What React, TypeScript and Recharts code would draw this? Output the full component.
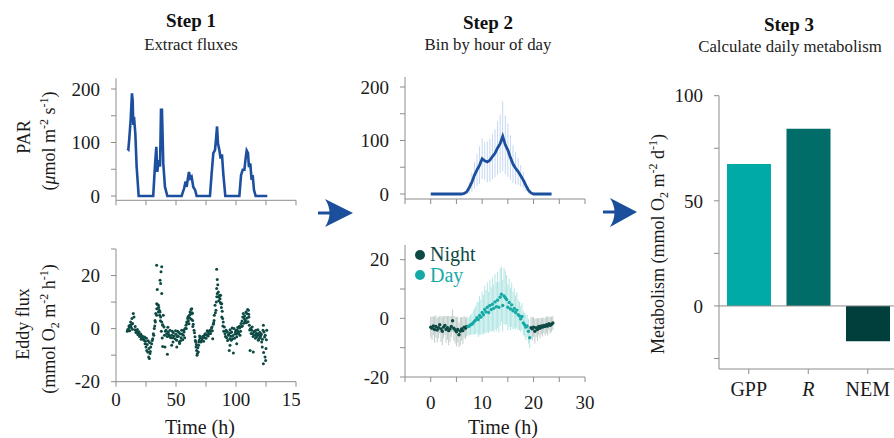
import React from "react";
import {
  Bar,
  BarChart,
  Cell,
  ComposedChart,
  ErrorBar,
  Line,
  ReferenceLine,
  Scatter,
  XAxis,
  YAxis,
} from "recharts";

// Step 1 (top): PAR time series
const parTime = [9.4, 10.3, 11.1, 12.2, 13.3, 13.9, 14.4, 15.0, 16.1, 17.2, 18.9, 31.0, 32.5, 33.6, 34.4, 35.6, 36.7, 37.5, 38.3, 39.4, 40.8, 42.8, 54.7, 56.7, 58.0, 58.9, 59.7, 60.8, 61.9, 63.0, 64.4, 66.0, 67.2, 78.3, 79.7, 81.1, 82.5, 83.3, 84.2, 85.0, 86.1, 87.2, 88.3, 89.4, 91.1, 102.8, 104.2, 105.6, 107.0, 108.0, 108.9, 110.0, 110.8, 111.9, 113.0, 113.9, 115.0, 116.4, 126.1];
const parValue = [89, 87, 108, 142, 192, 179, 133, 148, 117, 55, 0, 0, 58, 92, 45, 67, 55, 161, 161, 61, 17, 0, 0, 14, 27, 17, 30, 45, 33, 36, 17, 11, 0, 0, 42, 80, 86, 105, 130, 98, 86, 70, 78, 42, 0, 0, 39, 49, 49, 70, 85, 80, 54, 61, 30, 39, 11, 0, 0];

// Step 1 (bottom): eddy flux points [time h, flux]
const eddyFlux: [number, number][] = [
  [9.4, -1.0], [9.8, -0.3], [10.3, -0.6], [10.8, 1.0], [11.1, 0.4], [11.4, -0.8], [11.7, 1.3], [12.2, 2.5], [12.6, 0.5], [13.0, 1.6], [13.3, 3.8], [13.6, -0.2], [13.9, 1.9], [14.4, 5.7], [15.0, 4.4],
  [15.8, -0.4], [16.0, 0.8], [16.6, -1.5], [17.2, -1.0], [17.8, -0.3], [18.2, -2.2], [18.6, -1.6], [19.2, -1.2], [19.6, -3.0], [20.0, -2.5], [20.6, -2.0], [21.0, -4.0], [21.4, -3.4], [22.0, -2.8], [22.8, -3.8],
  [23.3, -4.4], [23.8, -3.2], [24.2, -5.7], [24.6, -4.8], [25.0, -6.9], [25.3, -3.6], [25.6, -8.2], [26.0, -6.0], [26.4, -8.8], [26.8, -4.6], [27.2, -10.7], [27.5, -7.5], [27.8, -11.3], [28.0, -5.2], [28.3, -9.4], [28.6, -8.6], [28.9, -6.9],
  [29.7, -5.7], [30.2, -4.5], [30.6, -3.8], [31.1, -1.9], [31.5, -2.5], [31.9, 0], [32.3, 1.0], [32.5, 3.1], [32.8, 2.5], [33.1, 5.7],
  [33.9, 23.9], [34.4, 14.7], [33.9, 9.4], [33.9, 5.0], [34.0, 7.5], [34.8, 9.0], [35.3, 8.8], [35.3, 6.3], [35.6, 8.0], [36.1, 6.9], [36.4, 5.0], [36.7, 18.2], [37.2, 17.0], [37.5, 21.4], [38.1, 23.3], [38.1, 13.2], [36.7, 6.3], [37.0, 3.0], [37.2, 4.4], [37.8, -1.0], [38.1, 2.5], [38.5, -3.5], [38.9, 1.3], [38.9, -6.7], [39.0, 1.5], [39.4, 5.0], [40.0, 0.6], [40.4, -2.5], [40.8, -6.9], [41.2, -1.0], [41.7, -0.6], [42.8, -9.7],
  [42.2, -1.9], [42.6, -3.0], [43.2, 0.5], [43.6, -1.3], [44.0, -2.2], [44.4, -2.9], [45.0, -0.6], [45.6, -3.4], [46.4, -2.5], [46.4, -6.3], [46.9, -1.0], [47.2, -3.4], [47.5, -5.0], [47.8, -1.6], [48.4, -2.8], [49.2, -3.8], [49.6, -0.8], [50.0, -2.1], [50.6, -4.4], [50.6, -6.9], [51.0, -3.0], [51.4, -1.0], [51.9, -2.9], [52.2, -1.4], [52.8, -5.0], [53.0, -5.6], [53.3, -1.9], [53.8, -4.6], [54.2, -3.4], [54.7, -0.6], [55.0, -2.0], [55.6, -4.2], [56.1, -2.5], [56.4, -0.6], [56.7, -1.3], [57.2, -3.4], [57.5, 0],
  [58.3, 1.3], [58.6, 0.0], [58.9, 2.5], [59.4, 2.0], [59.7, 3.8], [60.0, 4.5], [60.3, 2.9], [60.8, 1.8], [61.1, 5.0], [61.4, 4.0], [61.7, 6.3], [62.2, 5.5], [62.5, 7.2], [62.8, 3.5], [63.1, 7.5], [63.4, 6.0], [63.6, 5.7], [63.9, 3.1], [64.0, 0.8], [64.4, 1.6],
  [65.0, -0.6], [65.4, -1.6], [65.8, -3.1], [66.1, -4.5], [66.4, -5.0], [66.7, -6.9], [67.0, -6.0], [67.2, -8.2], [67.5, -10.0], [67.8, -9.4], [68.2, -7.2], [68.6, -8.8], [68.9, -6.3], [69.0, -5.0], [69.4, -4.4], [69.7, -2.8], [70.0, -3.4],
  [70.8, -5.0], [71.2, -4.6], [71.7, -3.8], [72.2, -3.0], [72.8, -2.9], [73.0, -4.8], [73.6, -3.4], [74.0, -2.2], [74.4, -1.9], [75.0, -3.6], [75.6, -2.5], [76.0, -0.8], [76.4, -1.3], [76.8, -2.8], [77.2, -1.9], [77.8, -1.0], [78.3, -0.6], [78.8, -1.8], [79.2, -0.9], [79.6, 0.2], [80.0, 0.6], [80.3, -0.8], [80.6, -3.8], [81.1, 1.6], [81.4, 2.2], [81.7, 3.1], [81.9, 5.0],
  [82.5, 8.8], [82.8, 6.0], [83.3, 6.9], [83.6, 10.0], [83.9, 22.4], [84.4, 18.5], [83.9, 15.1], [84.0, 12.0], [84.4, 13.2], [84.8, 16.5], [85.3, 13.8], [85.6, 10.5], [85.8, 11.9], [86.2, 12.5], [86.7, 11.3], [87.0, 9.8], [87.2, 12.6], [87.5, 9.4], [87.8, 8.0], [88.1, 9.4], [88.1, 4.4], [88.5, 6.5], [88.9, 3.8], [89.0, 1.0], [89.4, 2.5], [89.8, -1.0], [90.3, 0.6],
  [90.8, -1.9], [91.2, -3.0], [91.7, -0.6], [92.0, -1.0], [92.2, -3.4], [92.8, -1.3], [93.0, -4.5], [93.6, -2.5], [94.0, -2.0], [94.4, -8.2], [94.8, -3.8], [95.0, -0.4], [95.0, -6.3], [95.4, -1.6], [95.8, -2.9], [96.0, -4.4], [96.4, -1.3], [96.8, 0.2], [97.2, -3.8], [97.5, -2.6], [97.8, -9.2], [98.3, 0], [98.8, -3.6], [99.2, -1.9], [99.6, -1.2], [100.0, -0.6], [100.3, -2.0], [100.6, -3.1], [100.6, -5.7], [101.0, -0.6], [101.4, 0.4], [101.9, -1.3], [102.2, -1.8], [102.8, 0.9], [103.0, 0.2], [103.3, -2.5], [103.8, -1.0], [104.2, 1.9], [104.6, 0.8],
  [105.0, 2.9], [105.3, 1.0], [105.6, 4.4], [106.1, 5.7], [106.5, 2.0], [106.9, 3.8], [107.2, 4.8], [107.5, 2.5], [107.8, 3.2], [108.3, 6.3], [108.6, 2.2], [108.9, 5.7], [109.3, 4.0], [109.7, 7.2], [110.0, 2.6], [110.3, 6.9], [110.6, 5.4], [110.8, 4.4], [111.1, 1.3], [111.4, -0.5], [111.7, -8.2],
  [112.2, 0], [112.6, -1.8], [113.1, -0.6], [113.5, 0.6], [113.9, -1.9], [114.2, -3.0], [114.4, -8.8], [115.0, -1.3], [115.4, -1.0], [115.8, -2.5], [116.2, -3.6], [116.7, -0.6], [117.0, -1.8], [117.2, -3.1], [117.7, -2.6], [118.1, -1.9], [118.3, -0.4], [118.6, -4.4], [119.0, -3.8], [119.4, -2.5], [119.8, -1.4], [120.0, -3.4], [120.4, -3.0], [120.8, -1.9], [121.1, -2.2], [121.4, -5.0], [121.9, -6.9], [122.0, -4.0], [122.5, -0.6], [122.8, 1.3], [122.8, -13.2], [123.0, -9.0], [123.3, -1.3], [123.8, -3.2], [124.2, -10.7], [124.4, -2.5], [124.7, -12.0], [125.0, -7.5], [125.3, -4.2], [125.6, -0.6],
];

// Step 2 (top): PAR binned by hour of day
const binHours = [0, 0.5, 1, 1.5, 2, 2.5, 3, 3.5, 4, 4.5, 5, 5.5, 6, 6.5, 7, 7.5, 8, 8.5, 9, 9.5, 10, 10.5, 11, 11.5, 12, 12.5, 13, 13.5, 14, 14.5, 15, 15.5, 16, 16.5, 17, 17.5, 18, 18.5, 19, 19.5, 20, 20.5, 21, 21.5, 22, 22.5, 23, 23.5];
const parMean = [0, 0, 0, 0, 0, 0, 0, 0, 0, 0, 0, 0, 0, 1, 4, 12, 22, 35, 45, 54, 66, 62, 60, 63, 70, 76, 86, 94, 108, 92, 82, 68, 56, 48, 42, 34, 26, 16, 7, 2, 0, 0, 0, 0, 0, 0, 0, 0];
const parSd = [0, 0, 0, 0, 0, 0, 0, 0, 0, 0, 0, 0, 0, 1, 4, 10, 18, 25, 30, 35, 38, 35, 38, 40, 42, 45, 50, 55, 65, 55, 50, 42, 35, 30, 25, 20, 15, 10, 6, 2, 0, 0, 0, 0, 0, 0, 0, 0];

// Step 2 (bottom): eddy flux binned by hour, night and day
const nightHours = [0, 0.25, 0.5, 0.75, 1, 1.25, 1.5, 1.75, 2, 2.25, 2.5, 2.75, 3, 3.25, 3.5, 3.75, 4, 4.25, 4.5, 4.75, 5, 5.25, 5.5, 5.75, 6, 6.25, 6.5, 6.75, 7, 19.5, 19.75, 20, 20.25, 20.5, 20.75, 21, 21.25, 21.5, 21.75, 22, 22.25, 22.5, 22.75, 23, 23.25, 23.5, 23.75];
const nightMean = [-3.0, -3.4, -2.6, -3.8, -2.8, -4.0, -3.2, -2.2, -3.6, -4.4, -3.0, -2.4, -3.8, -3.2, -4.2, -3.6, -2.8, -0.8, -3.4, -4.0, -4.6, -3.8, -5.6, -4.4, -3.6, -4.2, -3.0, -3.4, -2.8, -3.2, -3.6, -3.0, -4.4, -3.2, -3.8, -2.8, -3.4, -2.6, -3.0, -2.4, -2.8, -2.2, -2.6, -1.8, -2.4, -2.0, -1.6];
const nightSd = [3.5, 4.0, 3.2, 4.5, 3.8, 4.2, 3.6, 3.0, 4.4, 4.8, 3.8, 3.2, 4.6, 4.0, 5.0, 4.4, 3.6, 3.8, 4.2, 4.6, 5.0, 4.4, 4.2, 4.8, 4.0, 4.6, 3.8, 3.6, 3.4, 3.6, 4.0, 3.4, 4.2, 3.2, 3.8, 3.0, 3.4, 2.8, 3.2, 2.6, 3.0, 2.8, 3.2, 2.4, 2.8, 2.6, 2.4];
const dayHours = [7.25, 7.5, 7.75, 8, 8.25, 8.5, 8.75, 9, 9.25, 9.5, 9.75, 10, 10.25, 10.5, 10.75, 11, 11.25, 11.5, 11.75, 12, 12.25, 12.5, 12.75, 13, 13.25, 13.5, 13.75, 14, 14.25, 14.5, 14.75, 15, 15.25, 15.5, 15.75, 16, 16.25, 16.5, 16.75, 17, 17.25, 17.5, 17.75, 18, 18.25, 18.5, 18.75, 19, 19.25];
const dayMean = [-2.8, -2.6, -2.2, -2.0, -1.6, -1.0, -0.6, 0.2, -0.4, 1.0, 0.4, 2.0, 1.2, 3.0, 2.2, 3.8, 2.0, 4.4, 3.0, 4.8, 3.4, 5.6, 4.0, 6.2, 3.8, 7.2, 8.2, 4.4, 7.6, 7.0, 6.4, 3.8, 5.4, 3.2, 4.6, 2.6, 3.4, 2.0, 2.8, 1.2, 0.8, -0.2, 0.6, -1.6, -2.2, -3.0, -2.6, -4.4, -6.6];
const daySd = [3.0, 3.2, 3.4, 3.6, 4.0, 4.4, 4.8, 5.4, 6.0, 6.6, 6.0, 7.2, 6.8, 8.0, 7.4, 8.4, 7.0, 8.8, 7.6, 9.0, 8.0, 9.4, 8.4, 9.6, 8.6, 9.8, 9.4, 8.8, 9.6, 9.2, 8.4, 7.8, 8.2, 7.2, 7.6, 6.4, 6.8, 5.8, 6.0, 5.2, 4.8, 4.4, 4.6, 4.2, 4.0, 4.4, 3.8, 4.2, 3.6];

// Step 3: daily metabolism
const metCategories = ["GPP", "R", "NEM"];
const metValues = [67.5, 84.3, -16.8];
const metColors = ["#00aaa7", "#006d69", "#003f3c"];

const SERIF = '"Liberation Serif", "Times New Roman", serif';
const AXIS = "#8c8c8c";
const TEXT = "#1a1a1a";
const BLUE = "#1d4f9f";
const DARK = "#0e4a44";
const TEAL = "#16aaa6";

const tickStyle = { fill: TEXT, fontSize: 19, fontFamily: SERIF };

const parSeries = parTime.map((t, i) => ({ t, v: parValue[i] }));
const fluxSeries = eddyFlux.map(([t, v]) => ({ t, v }));
const parBins = binHours.map((t, i) => ({ t, v: parMean[i], sd: parSd[i] }));
const nightSeries = nightHours.map((t, i) => ({ t, v: nightMean[i], sd: nightSd[i] }));
const daySeries = dayHours.map((t, i) => ({ t, v: dayMean[i], sd: daySd[i] }));
const metData = metCategories.map((name, i) => ({ name, value: metValues[i], color: metColors[i] }));

const box = (left: number, top: number, width: number, height: number): React.CSSProperties => ({
  position: "absolute",
  left,
  top,
  width,
  height,
});

const only = (keep: number[]) => (v: number) => (keep.includes(v) ? String(v) : "");

const dot = (r: number, fill: string) => (p: any) => <circle cx={p.cx} cy={p.cy} r={r} fill={fill} />;
const noDot = () => <g />;

function CategoryTick({ x, y, payload }: any) {
  return (
    <text
      x={x}
      y={y}
      dy="0.71em"
      textAnchor="middle"
      fontSize={20}
      fontFamily={SERIF}
      fill={TEXT}
      fontStyle={payload.value === "R" ? "italic" : "normal"}
    >
      {payload.value}
    </text>
  );
}

function Overlay() {
  return (
    <svg width={894} height={438} style={{ position: "absolute", left: 0, top: 0, pointerEvents: "none" }} fontFamily={SERIF}>
      {/* titles */}
      <text x={191} y={27} textAnchor="middle" fontSize={19} fontWeight="bold" fill="#111">Step 1</text>
      <text x={191} y={49.5} textAnchor="middle" fontSize={16.8} fill="#222">Extract fluxes</text>
      <text x={488} y={28.5} textAnchor="middle" fontSize={19} fontWeight="bold" fill="#111">Step 2</text>
      <text x={488} y={50} textAnchor="middle" fontSize={16.8} fill="#222">Bin by hour of day</text>
      <text x={789} y={31} textAnchor="middle" fontSize={19} fontWeight="bold" fill="#111">Step 3</text>
      <text x={790} y={52} textAnchor="middle" fontSize={16.8} fill="#222">Calculate daily metabolism</text>

      {/* y axis titles */}
      <text transform="rotate(-90 30 137)" x={30} y={137} textAnchor="middle" fontSize={18} fill={TEXT}>PAR</text>
      <text transform="rotate(-90 55 141)" x={55} y={141} textAnchor="middle" fontSize={18} fill={TEXT}>
        (<tspan fontStyle="italic">μ</tspan>mol m<tspan dy={-7} fontSize={12}>-2</tspan><tspan dy={7}> s</tspan>
        <tspan dy={-7} fontSize={12}>-1</tspan><tspan dy={7}>)</tspan>
      </text>
      <text transform="rotate(-90 29 324)" x={29} y={324} textAnchor="middle" fontSize={18} fill={TEXT}>Eddy flux</text>
      <text transform="rotate(-90 55 329)" x={55} y={329} textAnchor="middle" fontSize={18} fill={TEXT}>
        (mmol O<tspan dy={4} fontSize={12}>2</tspan><tspan dy={-4}> m</tspan>
        <tspan dy={-7} fontSize={12}>-2</tspan><tspan dy={7}> h</tspan>
        <tspan dy={-7} fontSize={12}>-1</tspan><tspan dy={7}>)</tspan>
      </text>
      <text transform="rotate(-90 664 244)" x={664} y={244} textAnchor="middle" fontSize={18} fill={TEXT}>
        Metabolism (mmol O<tspan dy={4} fontSize={12}>2</tspan><tspan dy={-4}> m</tspan>
        <tspan dy={-7} fontSize={12}>-2</tspan><tspan dy={7}> d</tspan>
        <tspan dy={-7} fontSize={12}>-1</tspan><tspan dy={7}>)</tspan>
      </text>

      {/* x axis titles */}
      <text x={200} y={434} textAnchor="middle" fontSize={20} fill={TEXT}>Time (h)</text>
      <text x={503} y={434} textAnchor="middle" fontSize={20} fill={TEXT}>Time (h)</text>

      {/* night / day legend */}
      <circle cx={420} cy={255} r={5} fill={DARK} />
      <text x={430} y={261} fontSize={20} fill={DARK}>Night</text>
      <circle cx={420} cy={275} r={5} fill={TEAL} />
      <text x={430} y={282} fontSize={20} fill={TEAL}>Day</text>

      {/* arrows */}
      <path d="M318 211.5 L333 211.5 L333 214.5 L318 214.5 Z" fill="#1b4f9c" />
      <path d="M325 199 L353 213 L325 227 Q334 213 325 199 Z" fill="#1b4f9c" />
      <path d="M603 210.5 L616 210.5 L616 213.5 L603 213.5 Z" fill="#1b4f9c" />
      <path d="M610 198 L637 212 L610 227 Q619 212 610 198 Z" fill="#1b4f9c" />
    </svg>
  );
}

export default function App() {
  return (
    <div style={{ ...box(0, 0, 894, 438), overflow: "hidden", background: "#fff", fontFamily: SERIF }}>
      {/* Step 1 top: PAR */}
      <div style={box(0, 60, 300, 160)}>
        <ComposedChart width={300} height={160} data={parSeries} margin={{ top: 18.3, right: 4, left: 0, bottom: 0 }}>
          <XAxis type="number" dataKey="t" domain={[0, 150]} ticks={[0, 25, 50, 75, 100, 125, 150]} interval={0}
            tickFormatter={() => ""} height={19.7} stroke={AXIS} tickSize={5} allowDataOverflow />
          <YAxis type="number" domain={[-8, 220]} ticks={[0, 50, 100, 150, 200]} interval={0} tickFormatter={only([0, 100, 200])}
            width={116} stroke={AXIS} tickSize={5} tickMargin={11} tick={tickStyle} allowDataOverflow />
          <Line dataKey="v" type="linear" stroke={BLUE} strokeWidth={2.6} dot={false} isAnimationActive={false} />
        </ComposedChart>
      </div>

      {/* Step 1 bottom: eddy flux */}
      <div style={box(0, 230, 300, 208)}>
        <ComposedChart width={300} height={208} margin={{ top: 19, right: 4, left: 0, bottom: 0 }}>
          <XAxis type="number" dataKey="t" domain={[0, 150]} ticks={[0, 25, 50, 75, 100, 125, 150]} interval={0}
            tickFormatter={only([0, 50, 100, 150])} height={56.3} stroke={AXIS} tickSize={5} tickMargin={6} tick={tickStyle} allowDataOverflow />
          <YAxis type="number" dataKey="v" domain={[-20, 30]} ticks={[-20, -10, 0, 10, 20, 30]} interval={0} tickFormatter={only([-20, 0, 20])}
            width={116} stroke={AXIS} tickSize={5} tickMargin={11} tick={tickStyle} allowDataOverflow />
          <Scatter data={fluxSeries} shape={dot(1.5, DARK)} isAnimationActive={false} />
        </ComposedChart>
      </div>

      {/* Step 2 top: binned PAR */}
      <div style={box(300, 60, 300, 160)}>
        <ComposedChart width={300} height={160} data={parBins} margin={{ top: 17, right: 15, left: 0, bottom: 0 }}>
          <XAxis type="number" dataKey="t" domain={[-5, 30]} ticks={[-5, 0, 5, 10, 15, 20, 25, 30]} interval={0}
            tickFormatter={() => ""} height={21} stroke={AXIS} tickSize={5} allowDataOverflow />
          <YAxis type="number" domain={[-9.35, 218.7]} ticks={[0, 50, 100, 150, 200]} interval={0} tickFormatter={only([0, 100, 200])}
            width={105} stroke={AXIS} tickSize={5} tickMargin={11} tick={tickStyle} allowDataOverflow />
          <Line dataKey="v" stroke="none" dot={false} isAnimationActive={false}>
            <ErrorBar dataKey="sd" direction="y" width={0} stroke="#c4d7ef" strokeWidth={1} />
          </Line>
          <Line dataKey="v" type="linear" stroke={BLUE} strokeWidth={2.8} dot={false} isAnimationActive={false} />
        </ComposedChart>
      </div>

      {/* Step 2 bottom: binned eddy flux */}
      <div style={box(300, 230, 300, 208)}>
        <ComposedChart width={300} height={208} margin={{ top: 15, right: 15, left: 0, bottom: 0 }}>
          <XAxis type="number" dataKey="t" domain={[-5, 30]} ticks={[-5, 0, 5, 10, 15, 20, 25, 30]} interval={0}
            tickFormatter={only([0, 10, 20, 30])} height={61} stroke={AXIS} tickSize={5} tickMargin={14} tick={tickStyle} allowDataOverflow />
          <YAxis type="number" dataKey="v" domain={[-20, 25]} ticks={[-20, -10, 0, 10, 20]} interval={0} tickFormatter={only([-20, 0, 20])}
            width={105} stroke={AXIS} tickSize={5} tickMargin={11} tick={tickStyle} allowDataOverflow />
          <Scatter data={nightSeries} shape={noDot} isAnimationActive={false}>
            <ErrorBar dataKey="sd" direction="y" width={0} stroke="#bfcdca" strokeWidth={1} />
          </Scatter>
          <Scatter data={daySeries} shape={noDot} isAnimationActive={false}>
            <ErrorBar dataKey="sd" direction="y" width={0} stroke="#b2e6e3" strokeWidth={1} />
          </Scatter>
          <Scatter data={nightSeries} shape={dot(1.7, DARK)} isAnimationActive={false} />
          <Scatter data={daySeries} shape={dot(1.7, TEAL)} isAnimationActive={false} />
        </ComposedChart>
      </div>

      {/* Step 3: daily metabolism */}
      <div style={box(600, 60, 300, 378)}>
        <BarChart width={300} height={378} data={metData} margin={{ top: 35.7, right: 2.5, left: 0, bottom: 0 }}>
          <XAxis dataKey="name" type="category" height={69} stroke={AXIS} tickSize={5} tickMargin={8} tick={<CategoryTick />} interval={0} />
          <YAxis type="number" domain={[-30, 100]} ticks={[-25, 0, 25, 50, 75, 100]} interval={0} tickFormatter={only([0, 50, 100])}
            width={119} stroke={AXIS} tickSize={5} tickMargin={11} tick={tickStyle} allowDataOverflow />
          <ReferenceLine y={0} stroke={AXIS} strokeWidth={1} />
          <Bar dataKey="value" barSize={44} isAnimationActive={false}>
            {metData.map((d) => (
              <Cell key={d.name} fill={d.color} />
            ))}
          </Bar>
        </BarChart>
      </div>

      <Overlay />
    </div>
  );
}
